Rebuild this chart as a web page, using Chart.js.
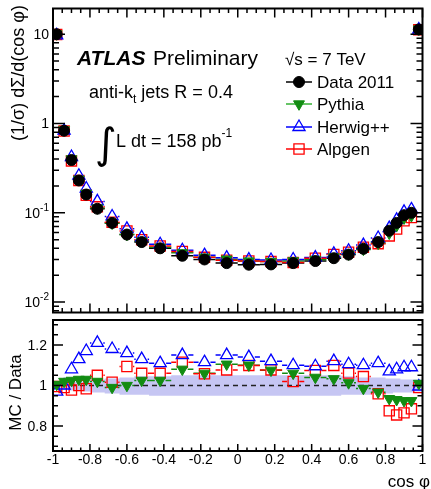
<!DOCTYPE html>
<html>
<head>
<meta charset="utf-8">
<script src="https://cdn.jsdelivr.net/npm/chart.js@4.4.0/dist/chart.umd.min.js"></script>
<style>
  html, body { margin: 0; padding: 0; background: #fff; }
  #wrap { position: relative; width: 431px; height: 489px; overflow: hidden; background: #fff; }
  canvas { position: absolute; left: 0; }
  #mainCanvas { top: 0; }
  #ratioCanvas { top: 300px; }
</style>
</head>
<body>
<div id="wrap">
  <canvas id="mainCanvas" width="431" height="321"></canvas>
  <canvas id="ratioCanvas" width="431" height="189"></canvas>
</div>
<script>
// cos(phi) bin edges (variable width, finer near +-1)
const binEdges = [-1, -0.96, -0.92, -0.88, -0.84, -0.8, -0.72, -0.64, -0.56, -0.48, -0.36, -0.24, -0.12,
                  0, 0.12, 0.24, 0.36, 0.48, 0.56, 0.64, 0.72, 0.8, 0.84, 0.88, 0.92, 0.96, 1];

// (1/sigma) dSigma/d(cos phi)
const dataValues   = [10.0, 0.83, 0.39, 0.23, 0.16, 0.111, 0.077, 0.057, 0.047, 0.040, 0.033, 0.030, 0.0273,
                      0.0262, 0.0264, 0.0273, 0.0288, 0.031, 0.034, 0.0395, 0.047, 0.063, 0.077, 0.094, 0.100, 11.3];
const pythiaValues = [10.05, 0.847, 0.40, 0.237, 0.165, 0.113, 0.0762, 0.057, 0.0482, 0.041, 0.0356, 0.0318, 0.0302,
                      0.0288, 0.0284, 0.0289, 0.030, 0.032, 0.0344, 0.0389, 0.0454, 0.0589, 0.0716, 0.087, 0.0925, 11.41];
const herwigValues = [9.7, 0.83, 0.421, 0.26, 0.187, 0.134, 0.0909, 0.0661, 0.0531, 0.0444, 0.038, 0.0335, 0.0314,
                      0.0299, 0.0296, 0.030, 0.0315, 0.0347, 0.0376, 0.0435, 0.0522, 0.0674, 0.0832, 0.1025, 0.109, 11.24];
const alpgenValues = [9.95, 0.822, 0.381, 0.23, 0.157, 0.1166, 0.0782, 0.0624, 0.0498, 0.0424, 0.0368, 0.0317, 0.0294,
                      0.0288, 0.0284, 0.0278, 0.0309, 0.0341, 0.0361, 0.0412, 0.0451, 0.0551, 0.0658, 0.0813, 0.0885, 11.19];

// MC / Data
const pythiaRatio = [1.005, 1.02, 1.025, 1.03, 1.03, 1.02, 0.99, 1.0, 1.025, 1.025, 1.08, 1.06, 1.105,
                     1.10, 1.075, 1.06, 1.04, 1.033, 1.013, 0.985, 0.967, 0.935, 0.93, 0.925, 0.925, 1.01];
const herwigRatio = [0.97, 1.0, 1.08, 1.13, 1.17, 1.21, 1.18, 1.16, 1.13, 1.11, 1.15, 1.115, 1.15,
                     1.14, 1.12, 1.10, 1.095, 1.12, 1.105, 1.10, 1.11, 1.07, 1.08, 1.09, 1.09, 0.995];
const alpgenRatio = [0.995, 0.99, 0.978, 1.0, 0.984, 1.05, 1.016, 1.094, 1.06, 1.06, 1.115, 1.058, 1.077,
                     1.099, 1.077, 1.02, 1.074, 1.099, 1.061, 1.044, 0.959, 0.875, 0.855, 0.865, 0.885, 0.99];

// data uncertainty band around 1
const bandUp   = [1.01, 1.015, 1.015, 1.02, 1.02, 1.03, 1.035, 1.04, 1.045, 1.045, 1.05, 1.05, 1.05,
                  1.05, 1.05, 1.05, 1.05, 1.05, 1.045, 1.04, 1.04, 1.035, 1.035, 1.03, 1.03, 1.03];
const bandDown = [0.985, 0.98, 0.975, 0.975, 0.97, 0.965, 0.96, 0.955, 0.955, 0.95, 0.95, 0.95, 0.95,
                  0.95, 0.95, 0.95, 0.95, 0.95, 0.955, 0.955, 0.96, 0.96, 0.965, 0.965, 0.965, 0.97];

const xTicks = [-1, -0.8, -0.6, -0.4, -0.2, 0, 0.2, 0.4, 0.6, 0.8, 1];
const xTickLabels = ['-1', '-0.8', '-0.6', '-0.4', '-0.2', '0', '0.2', '0.4', '0.6', '0.8', '1'];
const logTicks = [0.01, 0.1, 1, 10];
const logTickLabels = [['10', '-2'], ['10', '-1'], ['1', ''], ['10', '']];
const ratioTicks = [0.8, 1, 1.2];
const ratioTickLabels = ['0.8', '1', '1.2'];

const GREEN = '#128c12';
const GREEN_LINE = '#33b033';
const BLUE = '#0000ff';
const RED = '#ff0000';
const FONT = '"Liberation Sans", Arial, Helvetica, sans-serif';

function toPoints(vals) {
    return vals.map((v, i) => ({ x: (binEdges[i] + binEdges[i + 1]) / 2, y: v }));
}

const styles = {
    data:   { pointStyle: 'circle',   pointRadius: 5.5, pointRotation: 0,   fill: '#000', stroke: '#000', bw: 1 },
    pythia: { pointStyle: 'triangle', pointRadius: 6.3, pointRotation: 180, fill: GREEN, stroke: GREEN, bw: 1 },
    herwig: { pointStyle: 'triangle', pointRadius: 7,   pointRotation: 0,   fill: 'rgba(0,0,0,0)', stroke: BLUE, bw: 1.3 },
    alpgen: { pointStyle: 'rect',     pointRadius: 7.2, pointRotation: 0,   fill: 'rgba(0,0,0,0)', stroke: RED, bw: 1.3 }
};

function makeDataset(label, vals, st, order) {
    return {
        label: label,
        data: toPoints(vals),
        showLine: false,
        order: order,
        pointStyle: st.pointStyle,
        pointRadius: st.pointRadius,
        pointHoverRadius: st.pointRadius,
        pointRotation: st.pointRotation,
        pointBackgroundColor: st.fill,
        pointBorderColor: st.stroke,
        pointBorderWidth: st.bw,
        borderColor: st.stroke,
        backgroundColor: st.fill
    };
}

// horizontal bin-width bars, broken around the marker
function drawBinBars(chart) {
    const { ctx } = chart;
    const xs = chart.scales.x, ys = chart.scales.y;
    ctx.save();
    ctx.lineWidth = 1.5;
    chart.data.datasets.forEach(ds => {
        ctx.strokeStyle = ds.pointBorderColor;
        const gap = ds.pointRadius * 0.85;
        ds.data.forEach((p, i) => {
            const py = ys.getPixelForValue(p.y);
            const cx = xs.getPixelForValue(p.x);
            const x0 = xs.getPixelForValue(binEdges[i]);
            const x1 = xs.getPixelForValue(binEdges[i + 1]);
            ctx.beginPath();
            if (cx - gap > x0) { ctx.moveTo(x0, py); ctx.lineTo(cx - gap, py); }
            if (cx + gap < x1) { ctx.moveTo(cx + gap, py); ctx.lineTo(x1, py); }
            ctx.stroke();
        });
    });
    ctx.restore();
}

// inward ticks on all sides + box
function drawFrame(chart, yTickList, cfg) {
    const { ctx, chartArea: a } = chart;
    const xs = chart.scales.x, ys = chart.scales.y;
    ctx.save();
    ctx.strokeStyle = '#000';
    ctx.lineWidth = 1.5;
    ctx.beginPath();
    for (let k = -20; k <= 20; k++) {
        const px = xs.getPixelForValue(k / 20);
        const len = (k % 4 === 0) ? cfg.xMajor : cfg.xMinor;
        ctx.moveTo(px, a.bottom); ctx.lineTo(px, a.bottom - len);
        if (cfg.topTicks) { ctx.moveTo(px, a.top); ctx.lineTo(px, a.top + len); }
    }
    yTickList.forEach(t => {
        const py = ys.getPixelForValue(t.v);
        if (py < a.top - 0.5 || py > a.bottom + 0.5) return;
        const len = t.major ? cfg.yMajor : cfg.yMinor;
        ctx.moveTo(a.left, py); ctx.lineTo(a.left + len, py);
        ctx.moveTo(a.right, py); ctx.lineTo(a.right - len, py);
    });
    ctx.stroke();
    ctx.lineWidth = 2;
    ctx.strokeRect(a.left, a.top, a.right - a.left, a.bottom - a.top);
    ctx.restore();
}

function legendMarker(ctx, st, x, y, lineColor) {
    ctx.save();
    ctx.strokeStyle = lineColor;
    ctx.lineWidth = 1.5;
    ctx.beginPath();
    ctx.moveTo(x - 13, y); ctx.lineTo(x + 13, y);
    ctx.stroke();
    ctx.fillStyle = st.fill;
    ctx.strokeStyle = st.stroke;
    ctx.lineWidth = st.bw;
    Chart.helpers.drawPoint(ctx, { pointStyle: st.pointStyle, radius: st.pointRadius, rotation: st.pointRotation, borderWidth: st.bw }, x, y);
    ctx.restore();
}

const mainPlugin = {
    id: 'mainDecor',
    beforeDatasetsDraw(chart) { drawBinBars(chart); },
    afterDraw(chart) {
        const { ctx } = chart;
        const ys = chart.scales.y;
        const logList = [];
        for (let d = -3; d <= 1; d++) {
            for (let m = 1; m <= 9; m++) logList.push({ v: m * Math.pow(10, d), major: m === 1 });
        }
        drawFrame(chart, logList, { xMajor: 9, xMinor: 4.5, yMajor: 12, yMinor: 6, topTicks: true });

        ctx.save();
        ctx.fillStyle = '#000';
        // y tick labels with exponents
        ctx.textBaseline = 'middle';
        logTicks.forEach((v, i) => {
            const py = ys.getPixelForValue(v);
            const [base, exp] = logTickLabels[i];
            ctx.font = '10px ' + FONT;
            const ew = exp ? ctx.measureText(exp).width : 0;
            ctx.font = '14px ' + FONT;
            ctx.textAlign = 'right';
            ctx.fillText(base, 49 - ew, py + 1);
            if (exp) {
                ctx.font = '10px ' + FONT;
                ctx.textAlign = 'left';
                ctx.fillText(exp, 49 - ew, py - 5);
            }
        });

        // y title
        ctx.save();
        ctx.translate(19, 5);
        ctx.rotate(-Math.PI / 2);
        ctx.textAlign = 'right';
        ctx.textBaseline = 'middle';
        ctx.font = '18px ' + FONT;
        ctx.fillText('(1/\u03c3) d\u03a3/d(cos \u03c6)', 0, 0);
        ctx.restore();

        ctx.textBaseline = 'alphabetic';
        ctx.textAlign = 'left';
        ctx.font = 'italic bold 21px ' + FONT;
        ctx.fillText('ATLAS', 77, 65);
        ctx.font = '21px ' + FONT;
        ctx.fillText('Preliminary', 153, 65);

        ctx.font = '18px ' + FONT;
        ctx.fillText('anti-k', 89, 98);
        let w = ctx.measureText('anti-k').width;
        ctx.font = '12px ' + FONT;
        ctx.fillText('t', 89 + w, 103);
        const tw = ctx.measureText('t').width;
        ctx.font = '18px ' + FONT;
        ctx.fillText(' jets R = 0.4', 89 + w + tw, 98);

        ctx.font = '42px "DejaVu Sans", ' + FONT;
        ctx.fillText('\u222b', 95, 158);
        ctx.font = '18px ' + FONT;
        ctx.fillText('L dt = 158 pb', 116, 147);
        w = ctx.measureText('L dt = 158 pb').width;
        ctx.font = '12px ' + FONT;
        ctx.fillText('-1', 116 + w, 137);

        ctx.font = '17px ' + FONT;
        ctx.fillText('\u221as = 7 TeV', 285, 65);

        const entries = [
            ['Data 2011', styles.data, '#000', 82],
            ['Pythia', styles.pythia, GREEN_LINE, 104],
            ['Herwig++', styles.herwig, BLUE, 127],
            ['Alpgen', styles.alpgen, RED, 149]
        ];
        entries.forEach(e => {
            legendMarker(ctx, e[1], 299, e[3], e[2]);
            ctx.fillStyle = '#000';
            ctx.font = '17px ' + FONT;
            ctx.textBaseline = 'middle';
            ctx.textAlign = 'left';
            ctx.fillText(e[0], 317, e[3] + 1);
        });
        ctx.restore();
    }
};

const ratioPlugin = {
    id: 'ratioDecor',
    beforeDatasetsDraw(chart) {
        const { ctx, chartArea: a } = chart;
        const xs = chart.scales.x, ys = chart.scales.y;
        ctx.save();
        // data uncertainty band
        ctx.fillStyle = '#c6c6f3';
        ctx.beginPath();
        ctx.moveTo(xs.getPixelForValue(binEdges[0]), ys.getPixelForValue(bandUp[0]));
        bandUp.forEach((u, i) => {
            ctx.lineTo(xs.getPixelForValue(binEdges[i]), ys.getPixelForValue(u));
            ctx.lineTo(xs.getPixelForValue(binEdges[i + 1]), ys.getPixelForValue(u));
        });
        for (let i = bandDown.length - 1; i >= 0; i--) {
            ctx.lineTo(xs.getPixelForValue(binEdges[i + 1]), ys.getPixelForValue(bandDown[i]));
            ctx.lineTo(xs.getPixelForValue(binEdges[i]), ys.getPixelForValue(bandDown[i]));
        }
        ctx.closePath();
        ctx.fill();
        // unity line
        ctx.strokeStyle = '#222';
        ctx.lineWidth = 1.5;
        ctx.setLineDash([5, 4]);
        ctx.beginPath();
        const y1 = ys.getPixelForValue(1);
        ctx.moveTo(a.left, y1); ctx.lineTo(a.right, y1);
        ctx.stroke();
        ctx.restore();
        drawBinBars(chart);
    },
    afterDraw(chart) {
        const { ctx, chartArea: a } = chart;
        const xs = chart.scales.x, ys = chart.scales.y;
        const linList = [];
        for (let k = 13; k <= 27; k++) linList.push({ v: k / 20, major: k % 4 === 0 });
        drawFrame(chart, linList, { xMajor: 7, xMinor: 3.5, yMajor: 10, yMinor: 5, topTicks: false });

        ctx.save();
        ctx.fillStyle = '#000';
        ctx.font = '14px ' + FONT;
        ctx.textBaseline = 'middle';
        ctx.textAlign = 'right';
        ratioTicks.forEach((v, i) => {
            ctx.fillText(ratioTickLabels[i], 47, ys.getPixelForValue(v) + 1);
        });
        ctx.textAlign = 'center';
        xTicks.forEach((v, i) => {
            ctx.fillText(xTickLabels[i], xs.getPixelForValue(v), a.bottom + 9);
        });

        ctx.font = '17px ' + FONT;
        ctx.textAlign = 'right';
        ctx.textBaseline = 'alphabetic';
        ctx.fillText('cos \u03c6', 430, a.bottom + 36);

        ctx.save();
        ctx.translate(16, ys.getPixelForValue(1) + 7);
        ctx.rotate(-Math.PI / 2);
        ctx.textAlign = 'center';
        ctx.textBaseline = 'middle';
        ctx.fillText('MC / Data', 0, 0);
        ctx.restore();
        ctx.restore();
    }
};

const baseOptions = (yScale, padding) => ({
    responsive: false,
    devicePixelRatio: 1,
    animation: false,
    layout: { padding: padding },
    plugins: { legend: { display: false }, tooltip: { enabled: false } },
    scales: {
        x: { type: 'linear', min: -1, max: 1, display: false },
        y: yScale
    }
});

new Chart(document.getElementById('mainCanvas'), {
    type: 'scatter',
    data: {
        datasets: [
            makeDataset('Data 2011', dataValues, styles.data, 0),
            makeDataset('Pythia', pythiaValues, styles.pythia, 1),
            makeDataset('Herwig++', herwigValues, styles.herwig, 2),
            makeDataset('Alpgen', alpgenValues, styles.alpgen, 3)
        ]
    },
    options: baseOptions({ type: 'logarithmic', min: 0.00764, max: 19.4, display: false },
                         { left: 53, right: 1, top: 8, bottom: 1 }),
    plugins: [mainPlugin]
});

new Chart(document.getElementById('ratioCanvas'), {
    type: 'scatter',
    data: {
        datasets: [
            makeDataset('Pythia', pythiaRatio, styles.pythia, 1),
            makeDataset('Herwig++', herwigRatio, styles.herwig, 2),
            makeDataset('Alpgen', alpgenRatio, styles.alpgen, 3)
        ]
    },
    options: baseOptions({ type: 'linear', min: 0.677, max: 1.323, display: false },
                         { left: 53, right: 1, top: 20, bottom: 38 }),
    plugins: [ratioPlugin]
});
</script>
</body>
</html>
